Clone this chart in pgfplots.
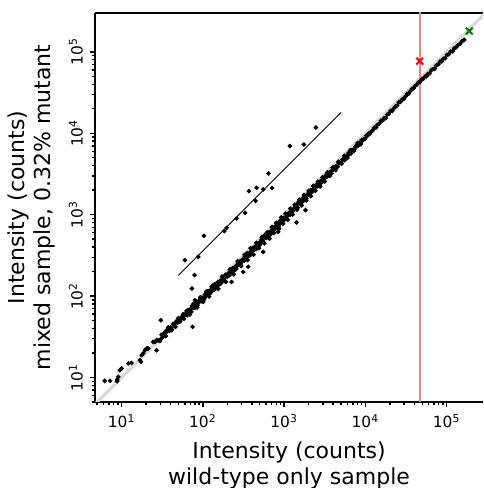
\documentclass[border=0pt]{standalone}
\usepackage{pgfplots}
\pgfplotsset{compat=1.18}
\usepackage{pgfplotstable}
\usepackage{fontspec}
\setmainfont{DejaVu Sans}
\usetikzlibrary{calc}
\definecolor{diag}{RGB}{217,217,217}
\definecolor{vline}{RGB}{255,128,128}
\definecolor{gmark}{RGB}{0,128,0}

\pgfplotstableread{
x y
6.2 9.1
7.2 9.1
8.8 9.4
9.1 10.2
8.8 9.0
9.5 12.3
10 12.9
12.1 14.9
13.2 15.1
16.8 16.3
17.6 18.8
17.3 15.6
18.4 19.8
20.3 22.7
21 22.7
24.5 27.4
26.9 28.7
19.4 21.7
21.2 22.7
26.9 21.6
25.7 27.4
31.0 30.1
34.1 33.1
35.8 38.1
41.2 38.1
45.3 46.0
54.7 55.5
65.9 67.1
79.8 89.1
96.4 89.1
116 108
134 136
30.4 50.6
74.6 41.9
73.3 124
28 28.6
29.5 28.0
31 33.5
32 31.4
33.5 35.2
35 32.2
36 36.4
37.5 41.3
39 37.4
40 41.2
41.5 39.0
43 45.6
44 43.6
46 41.9
47.5 49.4
49 47.5
50 53.5
52 48.4
53.5 53.5
55 52.8
57 59.9
58.5 52.7
60 58.8
62 60.8
64 58.2
66 67.3
68 63.9
70 67.9
72 64.1
74 76.2
76 72.2
78 71.8
80 79.2
82 76.3
84 84.8
86 77.4
88 84.5
90 84.6
92 92.0
95 86.5
98 95.1
100 93.0
103 90.6
106 103.9
109 103.6
112 103.0
115 113.9
118 106.2
121 116.2
124 115.3
127 113.0
130 126.1
65 61.8
73 73
81 72.9
89 86.3
97 91.2
105 95.6
113 108.5
122 107.4
63 65.5
69 59.3
77 80.9
85 72.3
93 96.7
101 84.8
110 113.3
119 98.8
128 130.6
133 123.7
137 119.2
141 134.0
145 130.5
149 125.2
153 148.4
157 139.7
161 148.1
165 141.9
170 159.8
175 154.0
180 163.8
185 153.6
190 182.4
195 175.5
200 174.0
206 191.6
212 180.2
218 198.4
224 199.4
230 218.5
236 203.0
243 223.6
250 220.0
257 215.9
264 237.6
271 254.7
278 241.9
285 259.4
292 248.2
300 267.0
135 120.2
143 131.6
151 132.9
159 149.5
167 150.3
178 153.1
188 174.8
198 180.2
209 183.9
221 210.0
233 209.7
246 209.1
260 239.2
275 244.8
290 269.7
140 140
155 122.5
172 173.7
192 149.8
215 212.9
240 184.8
268 268
296 233.8
325 321.8
355 276.9
385 388.9
420 323.4
455 450.5
490 387.1
530 530
570 444.6
615 602.7
660 508.2
705 705
750 592.5
800 792
860 670.8
915 924.2
970 776
1040 1029.6
1110 865.8
1190 1190
1270 1003.3
1350 1323
1440 1152
1540 1524.6
1645 1299.6
1750 1750
1870 1496
2000 1960
2130 1682.7
2280 2257.2
2430 1968.3
2600 2548
2770 2216
2950 2861.5
3150 2551.5
3400 3298
3650 2993
3950 3792
4300 3526
4650 4464
5100 4233
5500 5280
6000 4980
6500 6175
7200 6048
8000 7600
8800 7392
225 149
313 198
361 229
552 349
844 615
1419 802
1832 1135
310 282.1
320 272.0
330 306.9
340 299.2
350 336.0
362 311.3
374 336.6
386 320.4
398 374.1
410 364.9
423 368.0
436 401.1
450 378.0
464 440.8
478 420.6
493 448.6
508 436.9
524 487.3
540 480.6
557 456.7
574 556.8
592 521.0
610 549.0
629 534.7
648 602.6
668 581.2
689 627.0
710 596.4
732 695.4
755 672.0
778 669.1
802 737.8
827 727.8
853 708.0
879 826.3
906 815.4
934 812.6
963 886.0
993 854.0
315 277.2
345 317.4
368 312.8
392 352.8
417 392.0
443 385.4
471 428.6
500 425.0
532 473.5
565 525.5
600 516.0
638 574.2
678 569.5
720 662.4
765 673.2
812 771.4
866 753.4
920 818.8
978 909.5
1020 918
1050 892.5
1080 1004
1115 981
1150 1047
1185 995
1220 1147
1260 1096
1300 1170
1340 1152
1380 1270
1425 1268
1470 1220
1515 1439
1560 1373
1610 1465
1660 1428
1710 1590
1765 1536
1820 1638
1875 1575
1935 1780
1995 1776
2055 1767
2120 1993
2185 1923
2255 2052
2325 1976
2400 2160
2475 2302
2550 2219
2630 2341
2710 2276
2795 2571
2880 2534
2970 2703
3060 2632
3160 2844
3260 3032
3360 2923
3460 3079
1035 910.8
1130 1040
1240 1066
1360 1224
1490 1386
1635 1439
1790 1522
1960 1784
2150 1871
2360 2171
2590 2305
2840 2442
3110 2737
3410 3137
3580 3079
3700 3367
3830 3217
3960 3524
4100 3813
4240 3689
4390 3951
4540 3859
4700 4324
4860 4277
5030 4326
5200 4732
5380 4788
5570 4679
5760 5184
5960 5185
6170 5676
6380 5614
6600 5610
6830 6147
7070 6292
7310 6287
7570 6889
7830 6890
8100 7047
8380 7542
8670 7370
8970 8252
9280 8166
9600 8544
9940 8548
10300 9373
10650 9372
11000 9900
11400 9918
11800 10502
12300 10824
12900 11739
13500 11745
14100 12690
14800 13172
15500 14260
16200 14256
17000 15300
17800 15308
18600 16926
19500 17355
20400 18768
21400 18832
22400 20160
23500 21385
24600 21894
25800 23994
27000 24300
28300 26036
29700 26433
31100 28301
32600 30318
34100 30690
35700 32844
37400 35156
39200 35672
41000 38130
43000 39560
45000 42300
47000 42770
49300 45849
51500 46350
54000 49680
56500 50285
59000 53690
62000 54560
65000 59800
68000 61200
71500 62205
75000 68250
79000 70310
83000 76360
87000 76560
91500 82350
96000 83520
101000 91910
106000 93280
112000 100800
118000 101480
124000 110360
131000 113970
138000 121440
146000 125560
155000 134850
165000 140250
}\mainband

\pgfplotstableread{
x y
60.1 276
103 550
87.5 303
79 181
183 627
196 689
260 898
329 1052
368 1945
445 1479
458 2135
552 2040
643 3210
711 2120
1175 6950
1746 7280
2455 11770
}\mutant

\begin{document}
\begin{tikzpicture}
\begin{axis}[
  name=ax,
  scale only axis,
  width=194pt, height=194.5pt,
  xmode=log, ymode=log,
  xmin=4.7, xmax=2.8e5,
  ymin=5.0, ymax=3.0e5,
  axis x line*=box, axis y line*=left,
  xtick pos=left, ytick pos=left,
  tick align=outside,
  major tick length=2.6pt, minor tick length=1.5pt,
  every tick/.style={black, line width=0.7pt},
  axis line style={line width=0.9pt},
  log number format basis/.code 2 args={#1\textsuperscript{\pgfmathprintnumber[assume math mode=true]{#2}}},
  ticklabel style={font=\fontsize{7.7}{8}\selectfont},
  yticklabel style={rotate=90, anchor=south},
  xlabel={Intensity (counts)\\wild-type only sample},
  ylabel={Intensity (counts)\\mixed sample, 0.32\% mutant},
  label style={font=\fontsize{11}{13}\selectfont, align=center},
  clip=true,
]
\addplot[diag, line width=1.6pt] coordinates {(1,1) (1e6,1e6)};
\addplot[vline, line width=1pt] coordinates {(46600,1) (46600,1e6)};
\addplot[black, line width=0.45pt] coordinates {(50,180) (5000,18000)};
\addplot[only marks, mark=*, mark size=0.95pt, black] table[x=x, y=y] {\mainband};
\addplot[only marks, mark=*, mark size=0.95pt, black] table[x=x, y=y] {\mutant};
\addplot[only marks, mark=x, mark size=2.4pt, red, line width=1pt] coordinates {(46600,77000)};
\addplot[only marks, mark=x, mark size=2.4pt, gmark, line width=1pt] coordinates {(190000,180000)};
\end{axis}
\pgfresetboundingbox
\path ($(ax.south west)+(-47.5pt,-43pt)$) rectangle ($(ax.north east)+(0pt,6.5pt)$);
\end{tikzpicture}
\end{document}
